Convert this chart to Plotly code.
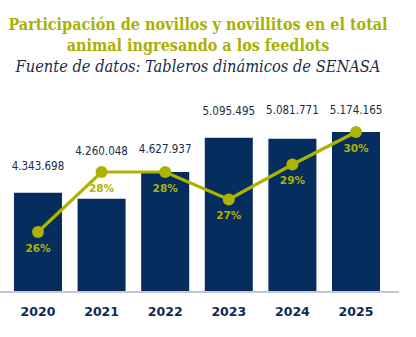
import plotly.graph_objects as go

years = ["2020", "2021", "2022", "2023", "2024", "2025"]
animals = [4343698, 4260048, 4627937, 5095495, 5081771, 5174165]
animal_labels = ["4.343.698", "4.260.048", "4.627.937", "5.095.495", "5.081.771", "5.174.165"]
share_pct = [26.0, 28.4, 28.4, 27.3, 28.7, 30.0]
share_labels = ["26%", "28%", "28%", "27%", "29%", "30%"]

NAVY = "#052e5e"
OLIVE = "#adb300"
TITLE_OLIVE = "#a9b000"
TEXT_NAVY = "#1b2b48"
# per-label spacing above the bar top (style only, transparent marker sizes)
label_gap_sizes = [30, 64, 24, 30, 34, 22]

fig = go.Figure()
fig.add_trace(go.Bar(
    x=years, y=animals, marker_color=NAVY, marker_line_width=0,
    hoverinfo="skip", showlegend=False,
))
fig.add_trace(go.Scatter(
    x=years, y=animals, mode="markers+text",
    marker=dict(size=label_gap_sizes, color="rgba(0,0,0,0)", line=dict(width=0)),
    text=animal_labels, textposition="top center",
    textfont=dict(family="DejaVu Sans Condensed, Liberation Sans, sans-serif", size=11.5, color=TEXT_NAVY),
    hoverinfo="skip", showlegend=False, cliponaxis=False,
))
fig.add_trace(go.Scatter(
    x=years, y=share_pct, yaxis="y2", mode="lines+markers",
    line=dict(color=OLIVE, width=3.2), marker=dict(color=OLIVE, size=12, line=dict(width=0)),
    hoverinfo="skip", showlegend=False, cliponaxis=False,
))
fig.add_trace(go.Scatter(
    x=years, y=share_pct, yaxis="y2", mode="markers+text",
    marker=dict(color="rgba(0,0,0,0)", size=17, line=dict(width=0)),
    text=share_labels, textposition="bottom center",
    textfont=dict(family="DejaVu Sans", size=10.5, color=OLIVE, weight="bold"),
    hoverinfo="skip", showlegend=False, cliponaxis=False,
))

fig.update_layout(
    width=416, height=337,
    margin=dict(l=0, r=17, t=95, b=46),
    paper_bgcolor="white", plot_bgcolor="white",
    bargap=0.245,
    title=dict(
        text=("<b>Participación de novillos y novillitos en el total<br>"
              "animal ingresando a los feedlots</b><br>"
              "<span style='color:#1b2b48;font-family:DejaVu Serif Condensed;font-style:italic;"
              "font-weight:normal;font-size:16.3px'>"
              "Fuente de datos: Tableros dinámicos de SENASA</span>"),
        x=198 / 416, xanchor="center", xref="container",
        y=1 - 30 / 337, yanchor="middle", yref="container",
        font=dict(family="DejaVu Serif Condensed", size=16, color=TITLE_OLIVE),
    ),
    xaxis=dict(
        type="category",
        range=[-0.597, 5.676], showgrid=False, zeroline=False,
        showline=True, linecolor="#c3c6d8", linewidth=1.5,
        ticks="outside", ticklen=8, tickcolor="rgba(0,0,0,0)",
        tickfont=dict(family="DejaVu Sans", size=12.5, color="#0d2a55", weight="bold"),
    ),
    yaxis=dict(range=[3000000, 5680000], visible=False, fixedrange=True),
    yaxis2=dict(range=[23.64, 31.48], overlaying="y", visible=False),
)

fig.write_html("out.html")
